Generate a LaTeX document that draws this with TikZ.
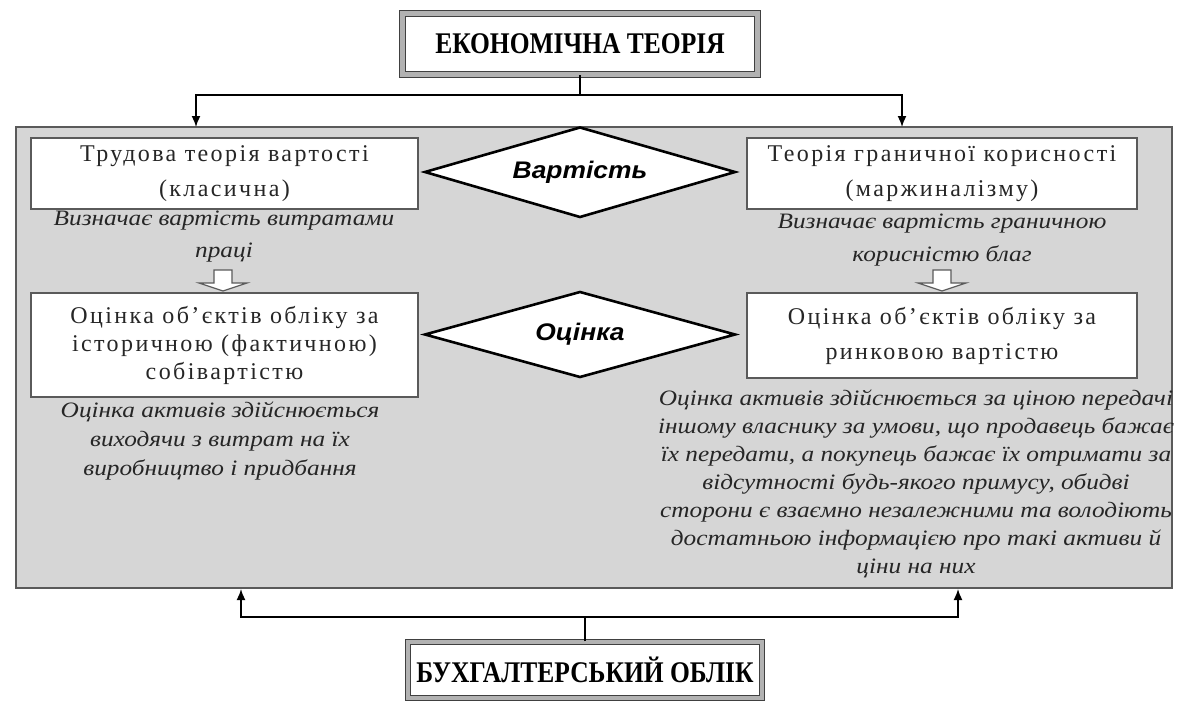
\documentclass[tikz,border=0pt]{standalone}
\usepackage{fontspec}
\setmainfont{Liberation Serif}
\newfontfamily\boxfont[LetterSpace=10]{Liberation Serif}
\newfontfamily\titlefont[FakeStretch=0.85]{Liberation Serif}
\newfontfamily\descfont[FakeStretch=1.15]{Liberation Serif}
\newfontfamily\diafont[FakeStretch=1.1]{Liberation Sans}
\usetikzlibrary{arrows.meta}
\definecolor{panelgray}{HTML}{D6D6D6}
\definecolor{framegray}{HTML}{5A5A5A}
\tikzset{
  panelbox/.style={draw=framegray, line width=1.6pt, fill=panelgray, inner sep=0pt},
  titlebox/.style={draw=black!75, line width=1.1pt, double=black!30, double distance=4.5pt,
    fill=white, inner sep=0pt, font=\titlefont\bfseries\fontsize{30}{34}\selectfont},
  valbox/.style={draw=framegray, line width=1.5pt, fill=white, inner sep=0pt, align=center,
    text=black!85, font=\boxfont\fontsize{24}{35}\selectfont},
  diashape/.style={draw=black, line width=2.6pt, fill=white, line join=miter},
  diatext/.style={inner sep=0pt, font=\diafont\bfseries\itshape\fontsize{24}{28}\selectfont},
  desctext/.style={align=center, inner sep=0pt, text=black!85},
  conn/.style={draw=black, line width=1.6pt},
  connarrow/.style={conn, -{Latex[length=11pt,width=9pt]}},
  harrow/.style={draw=framegray, line width=1.2pt, fill=white, line join=miter}
}
\begin{document}
\begin{tikzpicture}[x=1pt,y=-1pt]
\useasboundingbox (0,0) rectangle (1184,702);
% panel
\node[panelbox, minimum width=1156pt, minimum height=461pt] (panel) at (594,357.5) {};
% title boxes
\node[titlebox, minimum width=355pt, minimum height=61pt] (econ) at (580,44) {ЕКОНОМІЧНА ТЕОРІЯ};
\node[titlebox, minimum width=354pt, minimum height=56pt] (acct) at (585,670) {БУХГАЛТЕРСЬКИЙ ОБЛІК};
% value boxes
\node[valbox, minimum width=387pt, minimum height=71pt] (lb1) at (224.5,173.5) {Трудова теорія вартості\\(класична)};
\node[valbox, minimum width=390pt, minimum height=71pt] (rb1) at (942,173.5) {Теорія граничної корисності\\(маржиналізму)};
\node[valbox, minimum width=387pt, minimum height=104pt, font=\boxfont\fontsize{24}{28}\selectfont] (lb2) at (224.5,345) {Оцінка об’єктів обліку за\\історичною (фактичною)\\собівартістю};
\node[valbox, minimum width=390pt, minimum height=85pt] (rb2) at (942,335.5) {Оцінка об’єктів обліку за\\ринковою вартістю};
% diamonds
\draw[diashape] (425,172) -- (580,127.5) -- (735,172) -- (580,217) -- cycle;
\node[diatext] (d1) at (580,172) {Вартість};
\draw[diashape] (425,334.5) -- (580,292) -- (735,334.5) -- (580,377) -- cycle;
\node[diatext] (d2) at (580,334.5) {Оцінка};
% descriptions
\node[desctext, font=\descfont\itshape\fontsize{22}{32}\selectfont] (ld1) at (224,237) {Визначає вартість витратами\\праці};
\node[desctext, font=\descfont\itshape\fontsize{22}{33}\selectfont] (rd1) at (942,240) {Визначає вартість граничною\\корисністю благ};
\node[desctext, font=\descfont\itshape\fontsize{22}{29}\selectfont] (ld2) at (220,441) {Оцінка активів здійснюється\\виходячи з витрат на їх\\виробництво і придбання};
\node[desctext, font=\descfont\itshape\fontsize{22}{28}\selectfont] (rd2) at (916,484) {Оцінка активів здійснюється за ціною передачі\\іншому власнику за умови, що продавець бажає\\їх передати, а покупець бажає їх отримати за\\відсутності будь-якого примусу, обидві\\сторони є взаємно незалежними та володіють\\достатньою інформацією про такі активи й\\ціни на них};
% hollow arrows
\draw[harrow, shift={(223,283)}] (-9,-13) -- (9,-13) -- (9,0) -- (24,0) -- (0,8) -- (-24,0) -- (-9,0) -- cycle;
\draw[harrow, shift={(942,283)}] (-9,-13) -- (9,-13) -- (9,0) -- (24,0) -- (0,8) -- (-24,0) -- (-9,0) -- cycle;
% top connectors
\coordinate (tj) at (580,95);
\coordinate (tl) at (196,127);
\coordinate (tr) at (902,127);
\draw[conn] (econ.south) -- (tj);
\draw[connarrow] (tj) -| (tl);
\draw[connarrow] (tj) -| (tr);
% bottom connectors
\coordinate (bj) at (585,617);
\coordinate (bl) at (241,589);
\coordinate (br) at (958,589);
\draw[conn] (acct.north) -- (bj);
\draw[connarrow] (bj) -| (bl);
\draw[connarrow] (bj) -| (br);
\end{tikzpicture}
\end{document}
